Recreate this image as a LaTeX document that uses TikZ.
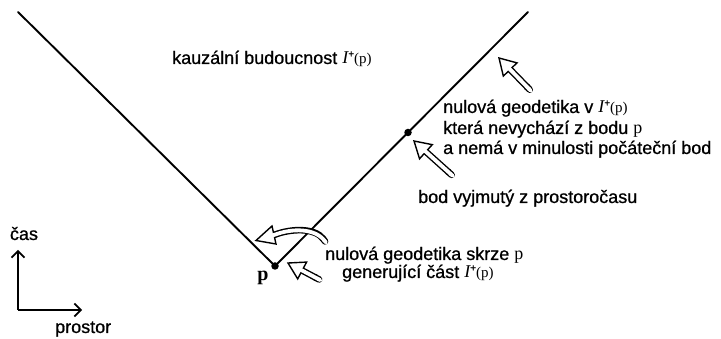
\documentclass[tikz,border=0pt]{standalone}
\usepackage{fontspec}
\setmainfont[FakeBold=0.8]{Liberation Sans}
\newfontfamily\serifface{Liberation Serif}
\usetikzlibrary{arrows.meta}

% causal future symbol I^+(p)
\newcommand{\Ifut}{{\serifface\itshape I}\raisebox{.38em}{\fontsize{10}{10}\selectfont +}{\serifface\fontsize{15}{15}\selectfont (p)}}

% hollow straight arrow from (#1,#2) to (#3,#4), picture coordinates
\newcommand{\hollowarrow}[4]{%
  \pgfmathsetmacro\harang{atan2(-(#4-#2),#3-#1)}%
  \pgfmathsetmacro\harlen{veclen(#3-#1,#4-#2)}%
  \begin{scope}[shift={(#1,#2)}, rotate=\harang]
    \draw[arrowhead] (\harlen-16,9.5) -- (\harlen,0) -- (\harlen-16,-9.5) -- cycle;
    \draw[line width=6.6pt, {Round Cap[]}-] (0,0) -- (\harlen-16,0);
    \draw[line width=3.8pt, white, {Round Cap[]}-] (0,0) -- (\harlen-14.4,0);
  \end{scope}}

\tikzset{
  worldline/.style={line width=1.9pt, line cap=round},
  event/.style={circle, fill=black, inner sep=0pt, minimum size=7.5pt},
  arrowhead/.style={line width=1.4pt, fill=white, line join=miter},
  label/.style={font=\fontsize{18}{20}\selectfont, inner sep=0pt},
  axis/.style={line width=1.7pt, -{Straight Barb[length=6.5pt,width=13pt]}},
}

\begin{document}
\begin{tikzpicture}[x=1pt, y=-1pt]
  \useasboundingbox (0,0) rectangle (721,339);

  % light cone of p
  \coordinate (lt) at (18,12);
  \coordinate (rt) at (528,12);
  \coordinate (p)  at (275,266);
  \coordinate (q)  at (408,132.5);
  \draw[worldline] (lt) -- (p) -- (rt);
  \node[event] (pdot) at (p) {};
  \node[event] (qdot) at (q) {};
  \node[label, font=\fontsize{20}{20}\serifface\bfseries, anchor=base] (plab) at (263,281) {p};

  % texts
  \node[label, anchor=base west] (future) at (172,64) {kauzální budoucnost \Ifut};
  \node[label, anchor=base west] (g1) at (443,113) {nulová geodetika v \Ifut};
  \node[label, anchor=base west] (g2) at (443,134) {která nevychází z bodu {\serifface p}};
  \node[label, anchor=base west] (g3) at (443,154) {a nemá v minulosti počáteční bod};
  \node[label, anchor=base west] (removed) at (418,203) {bod vyjmutý z prostoročasu};
  \node[label, anchor=base west] (gen1) at (325,260) {nulová geodetika skrze {\serifface p}};
  \node[label, anchor=base west] (gen2) at (342,278) {generující část \Ifut};

  % hollow pointers
  \hollowarrow{532}{92}{499}{58}
  \hollowarrow{454}{177}{414}{141}
  \hollowarrow{322}{281}{288}{263}

  % curved hollow pointer along the generator through p
  \draw[arrowhead] (272,226) -- (256,240.5) -- (276,244) -- cycle;
  \draw[line width=6.6pt, -{Round Cap[]}] (274,235) .. controls (292,228) and (315,228) .. (327,244);
  \draw[line width=3.8pt, white, -{Round Cap[]}] (272.6,235.5) -- (274,235) .. controls (292,228) and (315,228) .. (327,244);

  % axes
  \coordinate (o) at (18,310);
  \coordinate (ty) at (18,250);
  \coordinate (sx) at (82,310);
  \draw[axis] (o) -- (ty);
  \draw[axis] (o) -- (sx);
  \node[label, anchor=base] (time) at (24,240) {čas};
  \node[label, anchor=base west] (space) at (55,333) {prostor};
\end{tikzpicture}
\end{document}
